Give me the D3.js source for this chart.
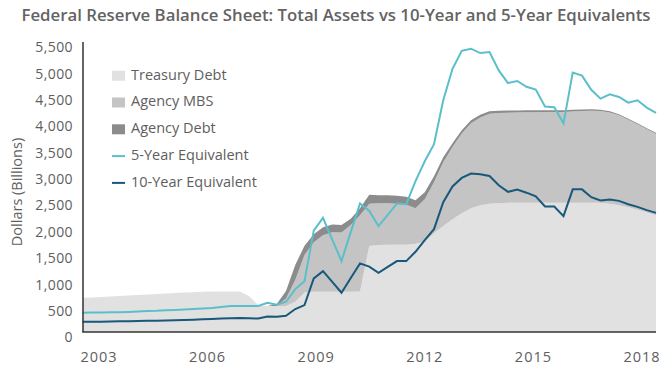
<!DOCTYPE html>
<html>
<head>
<meta charset="utf-8">
<script src="https://cdn.jsdelivr.net/npm/d3@7"></script>
<style>
  body { margin: 0; background: #fff; }
  text { font-family: "Open Sans", sans-serif; fill: #5e5e5e; }
</style>
</head>
<body>
<div id="viz"></div>
<script>
// quarterly observations, mid 2002 to early 2018
const quarters = [
  "2002Q3","2002Q4",
  "2003Q1","2003Q2","2003Q3","2003Q4","2004Q1","2004Q2","2004Q3","2004Q4",
  "2005Q1","2005Q2","2005Q3","2005Q4","2006Q1","2006Q2","2006Q3","2006Q4",
  "2007Q1","2007Q2","2007Q3","2007Q4","2008Q1","2008Q2","2008Q3","2008Q4",
  "2009Q1","2009Q2","2009Q3","2009Q4","2010Q1","2010Q2","2010Q3","2010Q4",
  "2011Q1","2011Q2","2011Q3","2011Q4","2012Q1","2012Q2","2012Q3","2012Q4",
  "2013Q1","2013Q2","2013Q3","2013Q4","2014Q1","2014Q2","2014Q3","2014Q4",
  "2015Q1","2015Q2","2015Q3","2015Q4","2016Q1","2016Q2","2016Q3","2016Q4",
  "2017Q1","2017Q2","2017Q3","2017Q4","2018Q1"
];

const treasuryDebt = [
  650, 655, 663, 672, 682, 690, 700, 710, 720, 730,
  739, 748, 756, 762, 766, 768, 768, 768, 682, 511,
  492, 492, 492, 574, 748, 765, 765, 765, 765, 765,
  770, 1629, 1648, 1657, 1657, 1657, 1676, 1714, 1875, 2008,
  2140, 2254, 2349, 2405, 2434, 2443, 2449, 2449, 2449, 2449,
  2449, 2449, 2449, 2449, 2449, 2449, 2449, 2434, 2405, 2368,
  2320, 2273, 2216
];

const agencyMBS = [
  0, 0, 0, 0, 0, 0, 0, 0, 0, 0,
  0, 0, 0, 0, 0, 0, 0, 0, 0, 0,
  0, 0, 142, 411, 710, 935, 1072, 1129, 1123, 1262,
  1446, 805, 795, 786, 777, 758, 673, 805, 966, 1212,
  1370, 1512, 1611, 1664, 1707, 1710, 1711, 1714, 1718, 1720,
  1722, 1723, 1724, 1735, 1743, 1749, 1741, 1730, 1704, 1656,
  1618, 1571, 1542
];

const agencyDebt = [
  0, 0, 0, 0, 0, 0, 0, 0, 0, 0,
  0, 0, 0, 0, 0, 0, 0, 0, 0, 0,
  0, 38, 143, 284, 180, 156, 152, 146, 139, 123,
  133, 170, 152, 152, 151, 151, 151, 133, 114, 95,
  70, 60, 55, 50, 45, 42, 40, 40, 38, 36,
  34, 33, 32, 30, 28, 26, 24, 22, 20, 20,
  20, 20, 20
];

const fiveYearEquivalent = [
  367, 369, 371, 373, 373, 379, 388, 398, 402, 411,
  417, 426, 436, 445, 455, 473, 492, 492, 492, 492,
  555, 517, 574, 814, 962, 1922, 2165, 1752, 1345, 1894,
  2438, 2297, 2008, 2223, 2438, 2424, 2860, 3239, 3561, 4394,
  4991, 5332, 5373, 5290, 5309, 4962, 4722, 4760, 4650, 4597,
  4275, 4262, 3958, 4921, 4862, 4593, 4426, 4508, 4457, 4350,
  4394, 4256, 4157
];

const tenYearEquivalent = [
  195, 195, 195, 199, 203, 205, 208, 212, 214, 218,
  223, 227, 233, 241, 246, 254, 261, 265, 261, 256,
  294, 290, 307, 436, 511, 1017, 1155, 951, 744, 1023,
  1301, 1241, 1123, 1235, 1345, 1345, 1521, 1742, 1951, 2462,
  2760, 2922, 3006, 2993, 2958, 2784, 2658, 2703, 2642, 2572,
  2381, 2381, 2197, 2705, 2705, 2557, 2494, 2515, 2487, 2424,
  2373, 2311, 2260
];

const yearLabels = [2003, 2006, 2009, 2012, 2015, 2018];
const yTicks = [0, 500, 1000, 1500, 2000, 2500, 3000, 3500, 4000, 4500, 5000, 5500];
// decimal-year dates of the first and last observation
const firstDate = 2002.545, lastDate = 2018.385;

const width = 670, height = 375;
const plotLeft = 83, plotRight = 656, plotTop = 42, plotBottom = 332;

const svg = d3.select("#viz").append("svg")
  .attr("width", width)
  .attr("height", height);

const x = d3.scalePoint().domain(quarters).range([82.5, plotRight]);
const xYear = d3.scaleLinear().domain([firstDate, lastDate]).range([82.5, plotRight]);
const y = d3.scaleLinear().domain([0, 5500]).range([plotBottom, plotTop]);

const rows = quarters.map((q, i) => ({
  q: q,
  treasury: treasuryDebt[i],
  mbs: agencyMBS[i],
  agency: agencyDebt[i]
}));

const stack = d3.stack().keys(["treasury", "mbs", "agency"]);
const layers = stack(rows);
const areaColors = { treasury: "#e1e1e1", mbs: "#c4c4c4", agency: "#8c8c8c" };

const area = d3.area()
  .x(d => x(d.data.q))
  .y0(d => y(d[0]))
  .y1(d => y(d[1]));

svg.selectAll("path.layer")
  .data(layers)
  .enter()
  .append("path")
  .attr("class", "layer")
  .attr("d", area)
  .attr("fill", d => areaColors[d.key]);

const line = d3.line()
  .x((d, i) => x(quarters[i]))
  .y(d => y(d));

svg.append("path")
  .attr("d", line(fiveYearEquivalent))
  .attr("fill", "none")
  .attr("stroke", "#5bbfcb")
  .attr("stroke-width", 2);

svg.append("path")
  .attr("d", line(tenYearEquivalent))
  .attr("fill", "none")
  .attr("stroke", "#18587a")
  .attr("stroke-width", 2);

// axes
svg.append("line")
  .attr("x1", plotLeft).attr("x2", plotLeft)
  .attr("y1", plotTop).attr("y2", plotBottom)
  .attr("stroke", "#333").attr("stroke-width", 1.5);

svg.append("line")
  .attr("x1", plotLeft - 0.75).attr("x2", plotRight)
  .attr("y1", plotBottom).attr("y2", plotBottom)
  .attr("stroke", "#333").attr("stroke-width", 1.5);

svg.selectAll("text.ytick")
  .data(yTicks)
  .enter()
  .append("text")
  .attr("class", "ytick")
  .attr("x", 73)
  .attr("y", d => y(d) + 6.5)
  .attr("text-anchor", "end")
  .attr("dominant-baseline", "middle")
  .style("font-size", "14px")
  .style("letter-spacing", "0.4px")
  .text(d => d3.format(",")(d));

svg.selectAll("text.xtick")
  .data(yearLabels)
  .enter()
  .append("text")
  .attr("class", "xtick")
  .attr("x", d => xYear(d))
  .attr("y", 358)
  .attr("text-anchor", "middle")
  .attr("dominant-baseline", "middle")
  .style("font-size", "14.5px")
  .style("letter-spacing", "1px")
  .text(d => d);

svg.append("text")
  .attr("transform", "translate(18,192) rotate(-90)")
  .attr("text-anchor", "middle")
  .attr("dominant-baseline", "middle")
  .style("font-size", "14.5px")
  .text("Dollars (Billions)");

svg.append("text")
  .attr("x", 336)
  .attr("y", 17)
  .attr("text-anchor", "middle")
  .attr("dominant-baseline", "middle")
  .attr("textLength", 629)
  .attr("lengthAdjust", "spacingAndGlyphs")
  .style("font-size", "16px")
  .style("font-weight", 600)
  .style("fill", "#636363")
  .text("Federal Reserve Balance Sheet: Total Assets vs 10-Year and 5-Year Equivalents");

// legend
const legendItems = [
  { label: "Treasury Debt", type: "area", color: "#e1e1e1" },
  { label: "Agency MBS", type: "area", color: "#c4c4c4" },
  { label: "Agency Debt", type: "area", color: "#8c8c8c" },
  { label: "5-Year Equivalent", type: "line", color: "#5bbfcb" },
  { label: "10-Year Equivalent", type: "line", color: "#18587a" }
];

const legend = svg.selectAll("g.legend")
  .data(legendItems)
  .enter()
  .append("g")
  .attr("class", "legend")
  .attr("transform", (d, i) => `translate(112, ${75.7 + i * 26.8})`);

legend.filter(d => d.type === "area")
  .append("rect")
  .attr("x", 0).attr("y", -5)
  .attr("width", 13).attr("height", 10)
  .attr("fill", d => d.color);

legend.filter(d => d.type === "line")
  .append("line")
  .attr("x1", 0).attr("x2", 13)
  .attr("y1", 0).attr("y2", 0)
  .attr("stroke", d => d.color)
  .attr("stroke-width", 2);

legend.append("text")
  .attr("x", 19)
  .attr("y", 0)
  .attr("dominant-baseline", "middle")
  .style("font-size", "14.5px")
  .text(d => d.label);
</script>
</body>
</html>
